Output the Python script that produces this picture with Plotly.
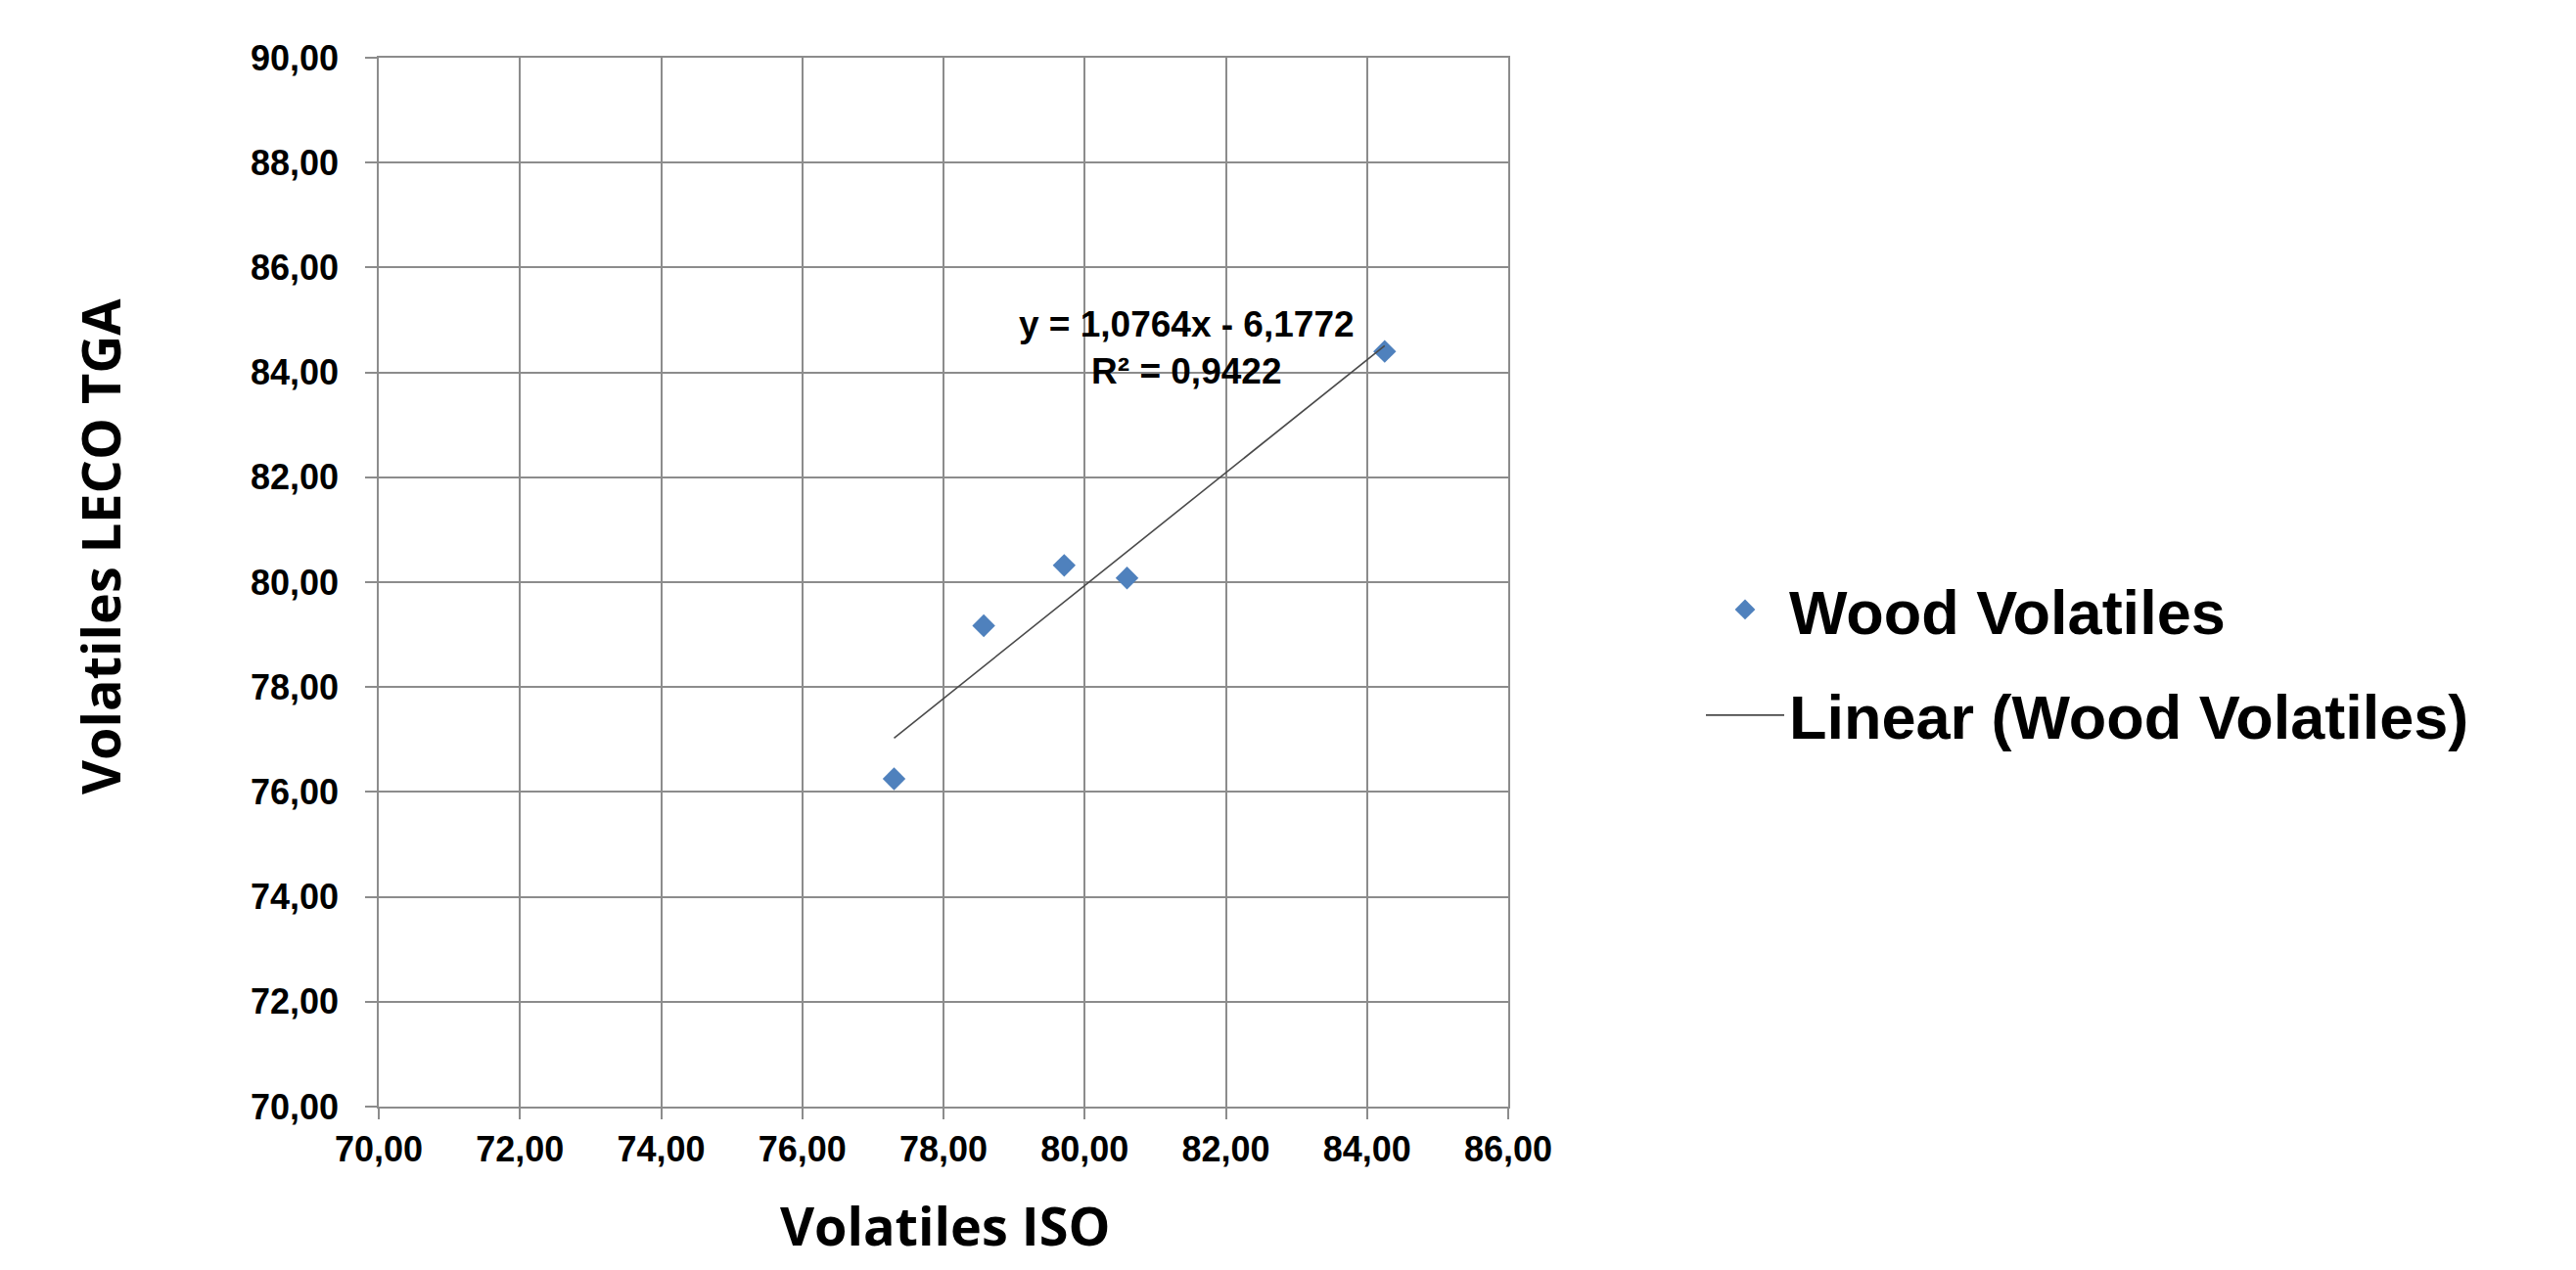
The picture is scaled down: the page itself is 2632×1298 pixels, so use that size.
import plotly.graph_objects as go

# Data
iso_volatiles = [77.30, 78.57, 79.71, 80.60, 84.25]
leco_volatiles = [76.25, 79.17, 80.32, 80.08, 84.40]
series_name = "Wood Volatiles"
trend_name = "Linear (Wood Volatiles)"
trend_slope = 1.0764
trend_intercept = -6.1772
trend_r2 = 0.9422
x_ticks = [70, 72, 74, 76, 78, 80, 82, 84, 86]
y_ticks = [70, 72, 74, 76, 78, 80, 82, 84, 86, 88, 90]

x_lo, x_hi = min(iso_volatiles), max(iso_volatiles)
trend_x = [x_lo, x_hi]
trend_y = [trend_slope * v + trend_intercept for v in trend_x]

# page body has an 8px margin; figure sized to fit exactly in window
OFF = 8
W, H = 2632 - 2 * OFF, 1298 - 2 * OFF
PL, PR, PT, PB = 387 - OFF, 1541 - OFF, 59 - OFF, 1131 - OFF
PH = PB - PT

GRID = "#8c8c8c"
TICKFONT = dict(family="Liberation Sans, Arial, sans-serif", size=36, color="#000000", weight="bold")
TITLEFONT = dict(family="Open Sans, sans-serif", size=54, color="#000000")

fig = go.Figure()
fig.add_trace(go.Scatter(
    x=iso_volatiles, y=leco_volatiles, mode="markers", name=series_name,
    marker=dict(symbol="diamond", size=18, color="#4F81BD"),
    legendgroup="a",
))
fig.add_trace(go.Scatter(
    x=trend_x, y=trend_y, mode="lines", name=trend_name,
    line=dict(color="#4a4a4a", width=1.6),
    legendgroup="b",
))

eq_text = ("y = " + f"{trend_slope:.4f}".replace(".", ",") + "x - "
           + f"{abs(trend_intercept):.4f}".replace(".", ",")
           + "<br>R² = " + f"{trend_r2:.4f}".replace(".", ","))
fig.add_annotation(
    x=81.45, y=84.46, xref="x", yref="y", text=eq_text, showarrow=False,
    font=dict(family="Liberation Sans, Arial, sans-serif", size=37, color="#000000", weight="bold"),
    align="center", xanchor="center", yanchor="middle",
)
fig.add_annotation(
    x=(965 - 387) / (1541 - 387), y=(PB - H) / PH,
    xref="paper", yref="paper", text="<b>Volatiles ISO</b>", showarrow=False,
    font=TITLEFONT, xanchor="center", yanchor="bottom", borderpad=0,
)
fig.add_annotation(
    x=(102 - 387) / (1541 - 387), y=(1131 - 559) / (1131 - 59),
    xref="paper", yref="paper", text="<b>Volatiles LECO TGA</b>", showarrow=False,
    font=TITLEFONT, xanchor="center", yanchor="middle", textangle=-90,
)

fig.update_layout(
    width=W, height=H,
    margin=dict(l=PL, r=W - PR, t=PT, b=H - PB, pad=0),
    paper_bgcolor="white", plot_bgcolor="white",
    separators=", ",
    showlegend=True,
    legend=dict(
        x=(1738 - 387) / (1541 - 387), y=(1131 - 677) / (1131 - 59),
        xanchor="left", yanchor="middle",
        font=dict(family="Liberation Sans, Arial, sans-serif", size=63, color="#000000", weight="bold"),
        itemwidth=80, traceorder="grouped", tracegroupgap=23,
        bgcolor="rgba(0,0,0,0)",
    ),
    xaxis=dict(
        range=[70, 86], tickvals=x_ticks, tickformat=".2f",
        showgrid=True, gridcolor=GRID, gridwidth=1.5,
        showline=True, linecolor=GRID, linewidth=1.5, mirror=True,
        ticks="outside", ticklen=11, tickcolor=GRID, tickwidth=1.5,
        tickfont=TICKFONT, zeroline=False,
    ),
    yaxis=dict(
        range=[70, 90], tickvals=y_ticks, tickformat=".2f",
        showgrid=True, gridcolor=GRID, gridwidth=1.5,
        showline=True, linecolor=GRID, linewidth=1.5, mirror=True,
        ticks="outside", ticklen=12, tickcolor=GRID, tickwidth=1.5,
        tickfont=TICKFONT, zeroline=False,
        ticklabelstandoff=20,
    ),
)

fig.write_html("out.html")
